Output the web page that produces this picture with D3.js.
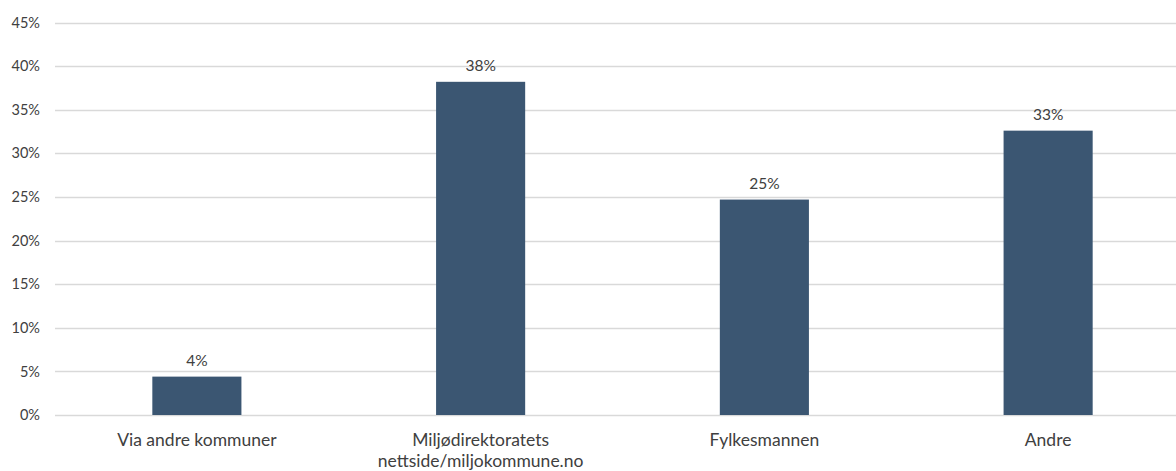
<!DOCTYPE html>
<html>
<head>
<meta charset="utf-8">
<script src="https://cdn.jsdelivr.net/npm/d3@7"></script>
<style>
  html, body { margin: 0; padding: 0; background: #fff; }
  svg { display: block; }
  text { font-family: Lato, "Open Sans", sans-serif; fill: #404040; }
</style>
</head>
<body>
<svg id="chart" width="1176" height="471"></svg>
<script>
// Kilder til informasjon (andel svar)
const categories = [
  ["Via andre kommuner"],
  ["Miljødirektoratets", "nettside/miljokommune.no"],
  ["Fylkesmannen"],
  ["Andre"]
];
const values = [4.4, 38.2, 24.7, 32.6];
const yTicks = [0, 5, 10, 15, 20, 25, 30, 35, 40, 45];

const svg = d3.select("#chart");
const margin = { left: 55, right: -14, top: 22.5, bottom: 56 };
const W = 1176, H = 471;

const x = d3.scaleBand()
  .domain(d3.range(categories.length))
  .range([margin.left, W - margin.right])
  .paddingInner(0.686)
  .paddingOuter(0.343);

const y = d3.scaleLinear()
  .domain([0, 45])
  .range([H - margin.bottom, margin.top]);

// horizontal grid lines
svg.append("g")
  .selectAll("line")
  .data(yTicks)
  .join("line")
  .attr("x1", margin.left)
  .attr("x2", W)
  .attr("y1", d => Math.round(y(d)) + 0.5)
  .attr("y2", d => Math.round(y(d)) + 0.5)
  .attr("stroke", "#d9d9d9")
  .attr("stroke-width", 1.5);

// y axis labels
const yAxis = d3.axisLeft(y)
  .tickValues(yTicks)
  .tickFormat(d => d + "%")
  .tickSize(0)
  .tickPadding(0);
const gy = svg.append("g")
  .attr("transform", `translate(${margin.left - 15},0)`)
  .call(yAxis);
gy.select(".domain").remove();
gy.selectAll("text")
  .style("font-family", "Lato, 'Open Sans', sans-serif")
  .attr("font-size", 14.5)
  .attr("fill", "#404040");

// bars
svg.append("g")
  .selectAll("rect")
  .data(values)
  .join("rect")
  .attr("x", (d, i) => x(i))
  .attr("width", x.bandwidth())
  .attr("y", d => y(d))
  .attr("height", d => y(0) - y(d))
  .attr("fill", "#3b5672");

// value labels
svg.append("g")
  .selectAll("text")
  .data(values)
  .join("text")
  .attr("x", (d, i) => x(i) + x.bandwidth() / 2)
  .attr("y", d => y(d) - 11)
  .attr("text-anchor", "middle")
  .attr("font-size", 15.5)
  .text(d => Math.round(d) + "%");

// category labels
const cat = svg.append("g")
  .selectAll("text")
  .data(categories)
  .join("text")
  .attr("x", (d, i) => x(i) + x.bandwidth() / 2)
  .attr("y", 445.5)
  .attr("text-anchor", "middle")
  .attr("font-size", 17.5);
cat.selectAll("tspan")
  .data(d => d)
  .join("tspan")
  .attr("x", function () { return d3.select(this.parentNode).attr("x"); })
  .attr("dy", (d, i) => i === 0 ? 0 : 21)
  .text(d => d);
</script>
</body>
</html>
